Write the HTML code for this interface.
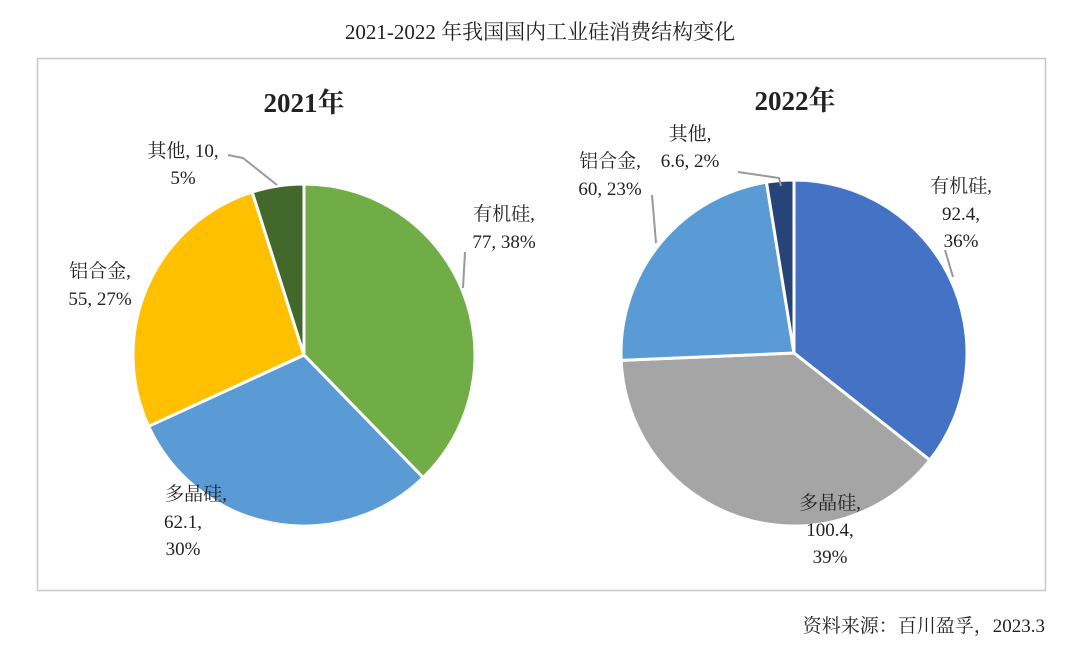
<!DOCTYPE html>
<html><head><meta charset="utf-8"><style>
body{margin:0;width:1080px;height:645px;background:#fff;overflow:hidden}
svg text{font-family:"Liberation Serif","Noto Serif CJK SC","Noto Sans CJK SC",serif;fill:#222}
</style></head><body>
<svg width="1080" height="645">
<text x="540" y="39" font-size="21" text-anchor="middle">2021-2022 年我国国内工业硅消费结构变化</text>
<rect x="37.5" y="58.5" width="1008" height="532" fill="none" stroke="#c8c8c8" stroke-width="1.5"/>
<text x="304" y="112" font-size="27" font-weight="bold" text-anchor="middle">2021年</text>
<text x="795" y="110" font-size="27" font-weight="bold" text-anchor="middle">2022年</text>
<g id="p1"></g><g id="p2"></g>
<g stroke="#999" stroke-width="2" fill="none">
<path d="M228,155 L243,158 L277,185"/>
<path d="M463,288 L465,252"/>
<path d="M953,277 L945,250"/>
<path d="M656,243 L652,195"/>
<path d="M738,172 L779,178 L781,186"/>
</g>
<g font-size="19" text-anchor="middle">
<text x="183" y="157">其他, 10,</text>
<text x="183" y="184">5%</text>
<text x="504" y="220">有机硅,</text>
<text x="504" y="248">77, 38%</text>
<text x="100" y="277">铝合金,</text>
<text x="100" y="305">55, 27%</text>
<text x="196" y="500">多晶硅,</text>
<text x="183" y="528">62.1,</text>
<text x="183" y="555">30%</text>
<text x="690" y="140">其他,</text>
<text x="690" y="167">6.6, 2%</text>
<text x="610" y="167">铝合金,</text>
<text x="610" y="195">60, 23%</text>
<text x="961" y="192">有机硅,</text>
<text x="961" y="220">92.4,</text>
<text x="961" y="247">36%</text>
<text x="830" y="509">多晶硅,</text>
<text x="830" y="536">100.4,</text>
<text x="830" y="563">39%</text>
</g>
<text x="1045" y="632" font-size="19" text-anchor="end">资料来源：百川盈孚，2023.3</text>
</svg>
<script>
const categories=["有机硅","多晶硅","铝合金","其他"];
const values2021=[77,62.1,55,10];
const values2022=[92.4,100.4,60,6.6];
const colors2021=["#70AD47","#5B9BD5","#FFC000","#43682B"];
const colors2022=["#4472C4","#A5A5A5","#5B9BD5","#264478"];
function pie(id,vals,cols,cx,cy,r,yr){
  const g=document.getElementById(id);
  const tot=vals.reduce((a,b)=>a+b,0);let a=0;
  vals.forEach((v,i)=>{
    const a0=a/tot*2*Math.PI;a+=v;const a1=a/tot*2*Math.PI;
    const x0=cx+r*Math.sin(a0),y0=cy-r*Math.cos(a0),x1=cx+r*Math.sin(a1),y1=cy-r*Math.cos(a1);
    const p=document.createElementNS("http://www.w3.org/2000/svg","path");
    p.setAttribute("d",`M${cx},${cy} L${x0},${y0} A${r},${r} 0 ${(a1-a0)>Math.PI?1:0} 1 ${x1},${y1} Z`);
    p.setAttribute("fill",cols[i]);p.setAttribute("stroke","#fff");p.setAttribute("stroke-width","3");
    
    
    g.appendChild(p);
  });
}
pie("p1",values2021,colors2021,304,355,171,"2021");
pie("p2",values2022,colors2022,794,353,173,"2022");
</script>
</body></html>
